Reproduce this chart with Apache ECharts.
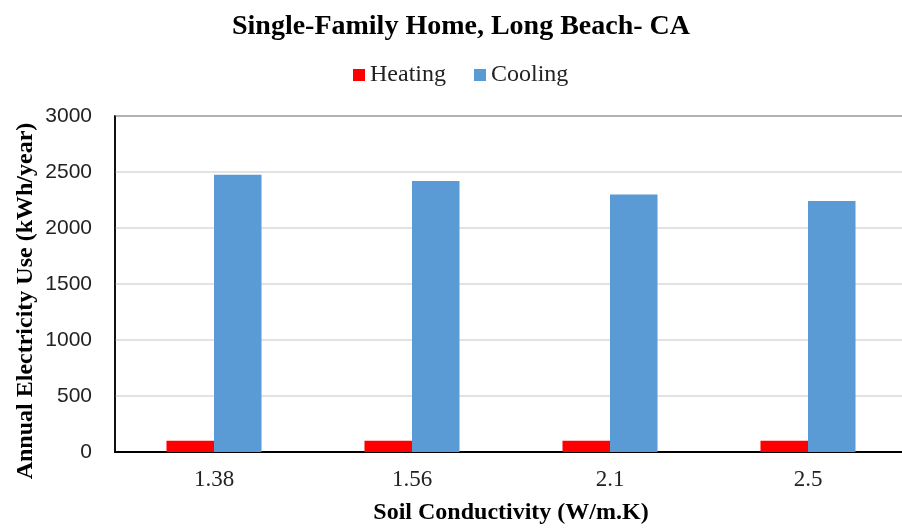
<!DOCTYPE html>
<html>
<head>
<meta charset="utf-8">
<script src="https://cdn.jsdelivr.net/npm/echarts@6/dist/echarts.min.js"></script>
<style>
  html, body { margin: 0; padding: 0; background: #fff; }
  #chart { width: 902px; height: 528px; }
</style>
</head>
<body>
<div id="chart"></div>
<script>
var categories = ["1.38", "1.56", "2.1", "2.5"];
var heating = [100, 100, 100, 100];
var cooling = [2475, 2420, 2300, 2240];
var yTicks = [0, 3000, 500]; // min, max, interval

var serif = "Liberation Serif";
var myChart = echarts.init(document.getElementById("chart"));
var option = {
  animation: false,
  title: {
    text: "Single-Family Home, Long Beach- CA",
    left: 456,
    textAlign: "center",
    top: 8,
    textStyle: { fontFamily: serif, fontWeight: "bold", fontSize: 28, color: "#000" },
  },
  legend: {
    top: 58,
    left: 348,
    itemWidth: 12,
    itemHeight: 12,
    itemGap: 28,
    icon: "rect",
    textStyle: { fontFamily: serif, fontSize: 24, color: "#222" },
    data: ["Heating", "Cooling"],
  },
  grid: {
    left: 115,
    right: -5,
    top: 116,
    bottom: 76,
    outerBoundsMode: "none",
    show: true,
    borderColor: "#000",
    borderWidth: 1.5,
  },
  xAxis: {
    type: "category",
    data: categories,
    name: "Soil Conductivity (W/m.K)",
    nameLocation: "middle",
    nameGap: 49,
    nameMoveOverlap: false,
    nameTextStyle: { fontFamily: serif, fontWeight: "bold", fontSize: 24, color: "#000" },
    axisTick: { show: false },
    axisLine: { show: true, lineStyle: { color: "#000", width: 2 } },
    axisLabel: { fontFamily: serif, fontSize: 23, color: "#222", margin: 16 },
  },
  yAxis: {
    type: "value",
    min: yTicks[0],
    max: yTicks[1],
    interval: yTicks[2],
    name: "Annual Electricity Use (kWh/year)",
    nameLocation: "middle",
    nameGap: 77,
    nameMoveOverlap: false,
    nameTextStyle: {
      fontFamily: serif,
      fontWeight: "bold",
      fontSize: 24,
      color: "#000",
      padding: [0, 34, 0, 0],
    },
    axisLine: { show: true, lineStyle: { color: "#000", width: 1.5 } },
    axisTick: { show: false },
    axisLabel: {
      fontFamily: "Liberation Sans",
      fontSize: 21,
      color: "#222",
      margin: 23,
      formatter: function (v) { return String(v); },
    },
    splitLine: { show: true, lineStyle: { color: "#d9d9d9", width: 1.5 } },
  },
  series: [
    {
      name: "Heating",
      type: "bar",
      data: heating,
      barGap: "0%",
      barCategoryGap: "52%",
      itemStyle: { color: "#ff0000" },
    },
    {
      name: "Cooling",
      type: "bar",
      data: cooling,
      barGap: "0%",
      barCategoryGap: "52%",
      itemStyle: { color: "#5b9bd5" },
    },
  ],
};
myChart.setOption(option);
</script>
</body>
</html>
